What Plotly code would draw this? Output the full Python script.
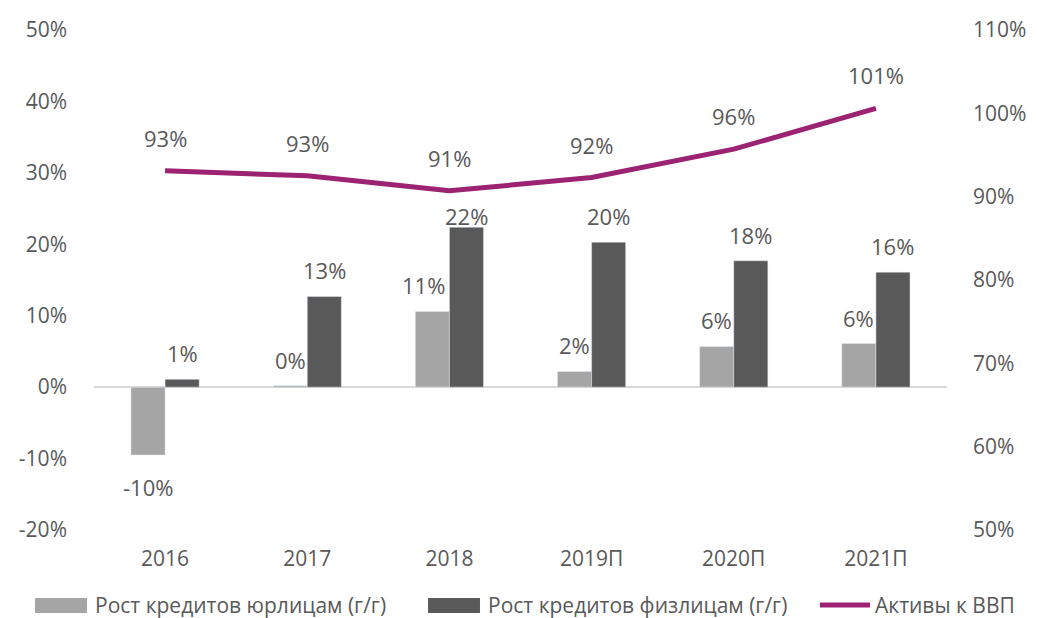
import plotly.graph_objects as go

categories = ["2016", "2017", "2018", "2019П", "2020П", "2021П"]
corp_growth = [-9.5, 0.2, 10.6, 2.2, 5.7, 6.1]
corp_labels = ["-10%", "0%", "11%", "2%", "6%", "6%"]
retail_growth = [1.1, 12.7, 22.4, 20.3, 17.7, 16.1]
retail_labels = ["1%", "13%", "22%", "20%", "18%", "16%"]
assets_gdp = [93.1, 92.5, 90.7, 92.3, 95.7, 100.6]
assets_labels = ["93%", "93%", "91%", "92%", "96%", "101%"]

left_ticks = [-20, -10, 0, 10, 20, 30, 40, 50]
right_ticks = [50, 60, 70, 80, 90, 100, 110]

series_names = ["Рост кредитов юрлицам (г/г)", "Рост кредитов физлицам (г/г)", "Активы к ВВП"]

# styles
TXT = "#595959"
FONT = "Open Sans"
FS = 22
C_LIGHT = "#a5a5a5"
C_DARK = "#595959"
C_LINE = "#9b2371"
retail_label_shift = [26, 26, 11, 26, 26, 26]
corp_label_xshift = [-17, -17, -26, -17, -17, -17]

fig = go.Figure()
fig.add_trace(go.Bar(x=categories, y=corp_growth, name=series_names[0],
                     marker=dict(color=C_LIGHT), showlegend=False))
fig.add_trace(go.Bar(x=categories, y=retail_growth, name=series_names[1],
                     marker=dict(color=C_DARK), showlegend=False))
fig.add_trace(go.Scatter(x=categories, y=assets_gdp, name=series_names[2], yaxis="y2",
                         mode="lines", line=dict(color=C_LINE, width=5), showlegend=False))

lab_font = dict(size=FS, color=TXT, family=FONT)
for i, (v, t) in enumerate(zip(corp_growth, corp_labels)):
    fig.add_annotation(x=i, y=v, text=t, showarrow=False, xshift=corp_label_xshift[i],
                       yshift=26 if v >= 0 else -32, font=lab_font)
for i, (v, t) in enumerate(zip(retail_growth, retail_labels)):
    fig.add_annotation(x=i, y=v, text=t, showarrow=False, xshift=17,
                       yshift=retail_label_shift[i] if v >= 0 else -32, font=lab_font)
for i, (v, t) in enumerate(zip(assets_gdp, assets_labels)):
    fig.add_annotation(x=i, y=v, yref="y2", text=t, showarrow=False,
                       yshift=33, font=lab_font)

# custom legend (wide swatches)
leg_y = -0.15
fig.add_shape(type="rect", xref="paper", yref="paper", x0=-0.0692, x1=-0.0082,
              y0=-0.136, y1=-0.166, fillcolor=C_LIGHT, line=dict(width=0))
fig.add_shape(type="rect", xref="paper", yref="paper", x0=0.3916, x1=0.4525,
              y0=-0.136, y1=-0.166, fillcolor=C_DARK, line=dict(width=0))
fig.add_shape(type="line", xref="paper", yref="paper", x0=0.851, x1=0.9097,
              y0=leg_y, y1=leg_y, line=dict(color=C_LINE, width=5))
for xp, name in zip([-0.0012, 0.4596, 0.9133], series_names):
    fig.add_annotation(xref="paper", yref="paper", x=xp, y=leg_y, text=name,
                       showarrow=False, xanchor="left", yanchor="middle",
                       font=dict(size=21, color=TXT, family=FONT))

fig.update_layout(
    width=1029, height=610,
    margin=dict(l=86, r=90, t=22, b=88, autoexpand=False),
    plot_bgcolor="white", paper_bgcolor="white",
    font=dict(family=FONT, size=FS, color=TXT),
    barmode="group", bargap=0.52, bargroupgap=0,
    showlegend=False,
    xaxis=dict(type="category", categoryorder="array", categoryarray=categories,
               range=[-0.5, len(categories) - 0.5],
               showgrid=False, showline=False, ticks="", ticklabelstandoff=14,
               tickfont=dict(size=21), automargin=False),
    yaxis=dict(range=[-20, 50], tickvals=left_ticks,
               ticktext=[f"{v}%" for v in left_ticks], showgrid=False,
               zeroline=True, zerolinecolor="#d9d9d9", zerolinewidth=2,
               tickfont=dict(size=21), ticklabelstandoff=26, automargin=False),
    yaxis2=dict(range=[50, 110], tickvals=right_ticks,
                ticktext=[f"{v}%" for v in right_ticks], overlaying="y",
                side="right", showgrid=False, zeroline=False,
                tickfont=dict(size=21), ticklabelstandoff=25, automargin=False),
)

fig.write_html("out.html")
